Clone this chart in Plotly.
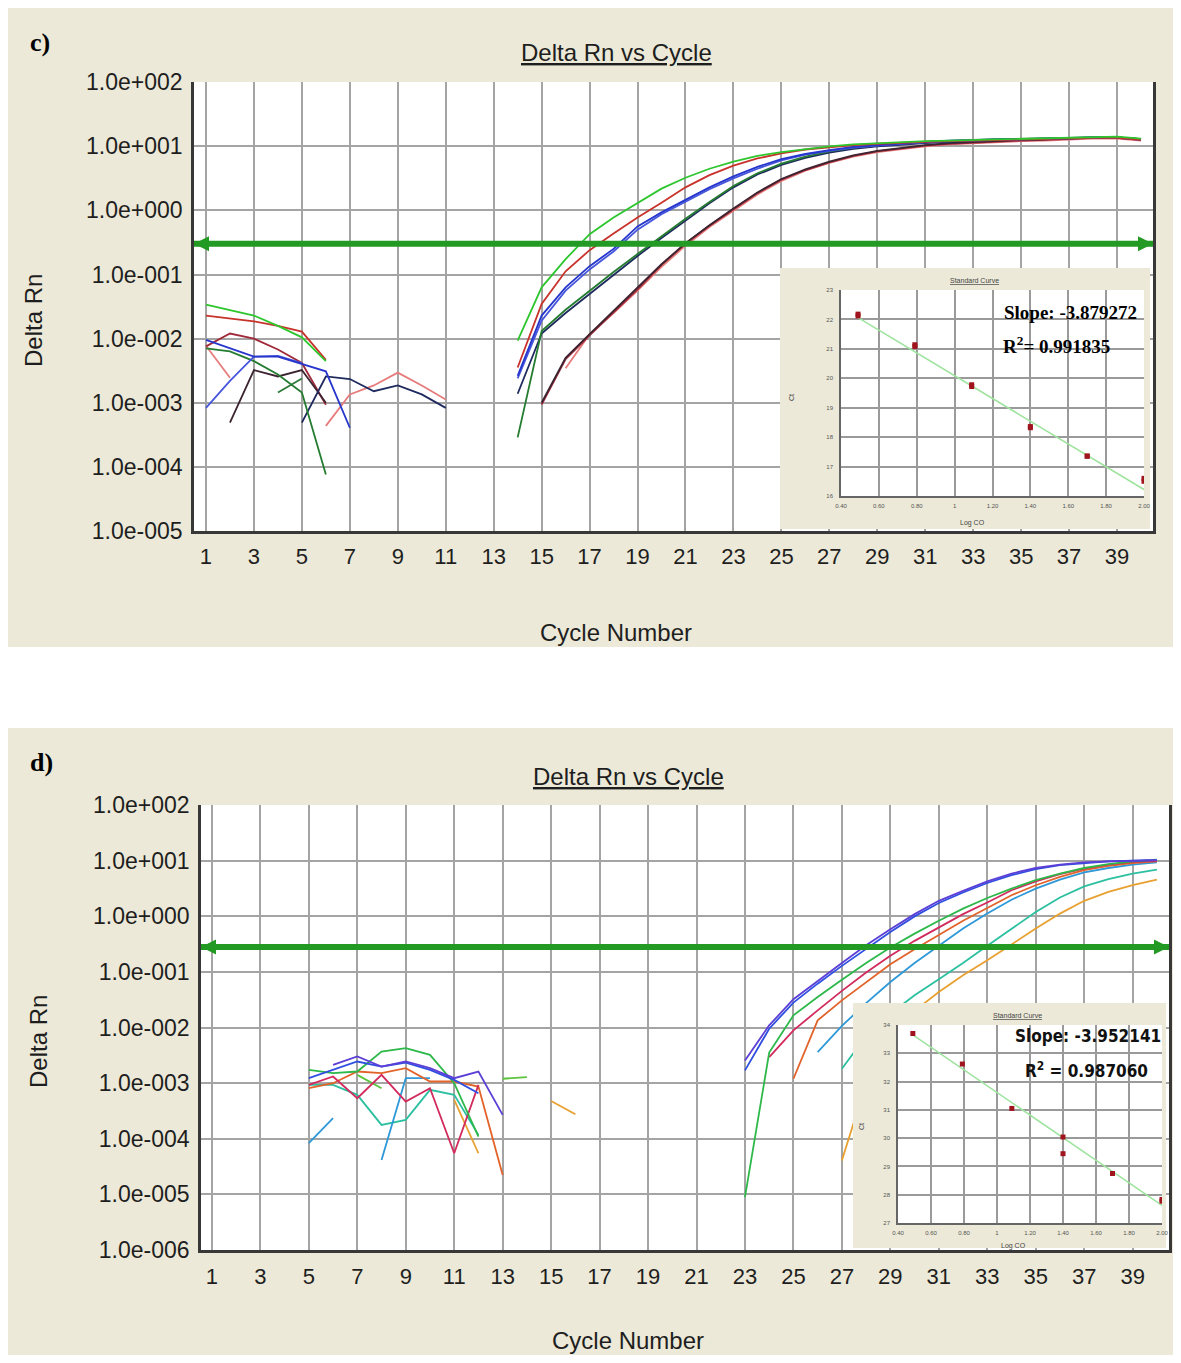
import plotly.graph_objects as go

# The page body has an 8px margin, so the figure is sized to fit the window.
FW, FH = 1165, 1347
N = None
cycles = list(range(1, 41))

# ---------------- panel c : log10(Delta Rn) per cycle 1..40 (None = no reading)
c_green = [-1.47, -1.55, -1.64, -1.80, -1.98, -2.35] + [N]*7 + [
    -2.03, -1.20, -0.76, -0.37, -0.11, 0.12, 0.34, 0.51, 0.65, 0.76, 0.85, 0.91, 0.96, 1.00,
    1.03, 1.05, 1.07, 1.08, 1.09, 1.10, 1.11, 1.12, 1.13, 1.14, 1.15, 1.15, 1.12]
c_red = [-1.64, -1.68, -1.73, -1.80, -1.89, -2.33] + [N]*7 + [
    -2.45, -1.46, -0.95, -0.62, -0.36, -0.11, 0.12, 0.36, 0.55, 0.70, 0.81, 0.89, 0.95, 0.99,
    1.02, 1.04, 1.06, 1.07, 1.08, 1.09, 1.10, 1.11, 1.12, 1.13, 1.13, 1.13, 1.10]
c_maroon = [-2.12, -1.92, -2.00, -2.17, -2.38, -3.03] + [N]*8 + [
    -3.03, -2.32, -1.95, -1.59, -1.23, -0.85, -0.52, -0.24, 0.02, 0.27, 0.48, 0.63, 0.75,
    0.85, 0.92, 0.97, 1.01, 1.04, 1.06, 1.08, 1.09, 1.10, 1.12, 1.13, 1.13, 1.10]
c_blue = [-2.02, -2.15, -2.28, -2.28, -2.40, -2.51, -3.39] + [N]*6 + [
    -2.58, -1.64, -1.20, -0.87, -0.60, -0.25, -0.03, 0.17, 0.36, 0.53, 0.68, 0.80, 0.88, 0.94,
    0.99, 1.02, 1.05, 1.07, 1.09, 1.10, 1.11, 1.12, 1.13, 1.14, 1.14, 1.14, 1.11]
c_blue2 = [-3.08, -2.66, -2.28, -2.27, -2.38] + [N]*8 + [
    -2.62, -1.72, -1.25, -0.92, -0.64, -0.30, -0.06, 0.14, 0.33, 0.50, 0.65, 0.78, 0.87, 0.93,
    0.98, 1.01, 1.04, 1.06, 1.08, 1.09, 1.10, 1.11, 1.12, 1.13, 1.13, 1.13, 1.10]
c_dkgreen = [-2.15, -2.20, -2.35, -2.56, -2.84, -4.12] + [N]*7 + [
    -3.54, -1.88, -1.55, -1.25, -0.96, -0.68, -0.40, -0.13, 0.13, 0.38, 0.58, 0.73, 0.84, 0.92,
    0.98, 1.02, 1.05, 1.07, 1.09, 1.10, 1.11, 1.12, 1.13, 1.14, 1.14, 1.14, 1.11]
c_navy = [N]*4 + [-3.31, -2.59, -2.63, -2.82, -2.73, -2.87, -3.08] + [N]*2 + [
    -2.86, -1.92, -1.60, -1.30, -1.00, -0.71, -0.43, -0.16, 0.11, 0.36, 0.56, 0.71, 0.82, 0.90,
    0.96, 1.00, 1.03, 1.05, 1.07, 1.09, 1.10, 1.11, 1.12, 1.13, 1.14, 1.14, 1.11]
c_black = [N] + [-3.31, -2.49, -2.59, -2.49, -3.00] + [N]*8 + [
    -3.00, -2.30, -1.93, -1.57, -1.21, -0.84, -0.51, -0.23, 0.03, 0.28, 0.49, 0.64, 0.76,
    0.86, 0.93, 0.98, 1.02, 1.05, 1.07, 1.09, 1.10, 1.11, 1.13, 1.14, 1.14, 1.11]
c_pink = [-2.11, -2.61] + [N]*3 + [-3.36, -2.87, -2.73, -2.53, -2.73, -2.95] + [N]*4 + [
    -2.46, -1.93, -1.60, -1.25, -0.88, -0.55, -0.26, 0.00, 0.25, 0.46, 0.62, 0.74, 0.84,
    0.91, 0.96, 1.00, 1.03, 1.05, 1.07, 1.08, 1.09, 1.11, 1.12, 1.12, 1.09]
c_dkgreen2 = [N]*3 + [-2.84, -2.62] + [N]*35

# ---------------- panel d
d_purple = [N]*5 + [-2.67, -2.52, -2.70, -2.61, -2.73, -2.91, -2.79, -3.57] + [N]*9 + [
    -2.59, -1.96, -1.49, -1.16, -0.84, -0.52, -0.23, 0.04, 0.28, 0.46, 0.63, 0.77, 0.87,
    0.93, 0.97, 0.99, 1.00, 1.01]
d_blue = [N]*4 + [-2.91, -2.76, -2.61, -2.70, -2.63, -2.76, -2.94, -3.18] + [N]*10 + [
    -2.77, -2.02, -1.55, -1.21, -0.89, -0.58, -0.28, 0.00, 0.24, 0.43, 0.60, 0.74, 0.85,
    0.92, 0.96, 0.99, 1.00, 1.01]
d_green = [N]*4 + [-2.76, -2.82, -2.79, -2.43, -2.37, -2.49, -3.00, -3.96] + [N]*10 + [
    -5.05, -2.45, -1.78, -1.45, -1.14, -0.84, -0.56, -0.31, -0.08, 0.14, 0.33, 0.50, 0.65,
    0.77, 0.87, 0.94, 0.99, 1.02]
d_crimson = [N]*4 + [-3.03, -2.88, -3.27, -2.85, -3.33, -3.09, -4.26, -3.03] + [N]*11 + [
    -2.53, -2.05, -1.69, -1.34, -1.01, -0.71, -0.44, -0.20, 0.04, 0.25, 0.47, 0.63, 0.76,
    0.86, 0.93, 0.98, 1.00]
d_orange = [N]*4 + [-3.09, -3.00, -2.79, -2.82, -2.73, -2.97, -2.97, -3.06, -4.65] + [N]*11 + [
    -2.92, -1.87, -1.51, -1.19, -0.86, -0.59, -0.33, -0.08, 0.15, 0.38, 0.56, 0.71, 0.83,
    0.91, 0.96, 0.99]
d_teal = [N]*4 + [-3.03, -3.03, -3.21, -3.75, -3.66, -3.12, -3.21, -3.93] + [N]*14 + [
    -2.74, -2.15, -1.75, -1.42, -1.13, -0.84, -0.53, -0.22, 0.08, 0.34, 0.54, 0.67, 0.77, 0.84]
d_lightblue = [N]*4 + [-4.08, -3.63, N, -4.38, -2.91, -2.91] + [N]*15 + [
    -2.44, -1.97, -1.56, -1.18, -0.84, -0.53, -0.22, 0.05, 0.30, 0.50, 0.66, 0.79, 0.87,
    0.93, 0.97]
d_gold = [N]*10 + [-3.30, -4.26, N, N, -3.32, -3.56] + [N]*10 + [
    -4.39, -3.00, -2.20, -1.70, -1.36, -1.06, -0.79, -0.50, -0.22, 0.05, 0.28, 0.44, 0.56, 0.66]
d_lightgreen = [N]*6 + [-2.85, -3.09] + [N]*4 + [-2.92, -2.89] + [N]*26

# thresholds (log10 Delta Rn) and the cycle span they are drawn over
c_threshold = -0.52
d_threshold = -0.55
c_thr_span = [0.5, 40.5]
d_thr_span = [0.55, 40.5]

# y tick labels
c_yticks = [-5, -4, -3, -2, -1, 0, 1, 2]
c_yticktext = ["1.0e-005", "1.0e-004", "1.0e-003", "1.0e-002", "1.0e-001",
               "1.0e+000", "1.0e+001", "1.0e+002"]
d_yticks = [-6, -5, -4, -3, -2, -1, 0, 1, 2]
d_yticktext = ["1.0e-006"] + c_yticktext
x_ticks = list(range(1, 40, 2))

# ---------------- standard curve insets
ins_c_logco = [0.49, 0.49, 0.79, 0.79, 1.09, 1.09, 1.40, 1.40, 1.70, 1.70, 2.00, 2.00]
ins_c_ct = [22.12, 22.18, 21.08, 21.14, 19.72, 19.78, 18.32, 18.36, 17.35, 17.36, 16.50, 16.60]
ins_c_fit_x = [0.49, 2.00]
ins_c_fit_y = [22.06, 16.22]
ins_d_logco = [0.49, 0.79, 1.09, 1.40, 1.40, 1.70, 2.00, 2.00]
ins_d_ct = [33.70, 32.62, 31.05, 30.04, 29.45, 28.75, 27.83, 27.77]
ins_d_fit_x = [0.49, 2.00]
ins_d_fit_y = [33.65, 27.62]
ins_xticks = [0.4, 0.6, 0.8, 1.0, 1.2, 1.4, 1.6, 1.8, 2.0]
ins_xticktext = ["0.40", "0.60", "0.80", "1", "1.20", "1.40", "1.60", "1.80", "2.00"]

for s in [c_green, c_red, c_maroon, c_blue, c_blue2, c_dkgreen, c_navy, c_black, c_pink,
          c_dkgreen2, d_purple, d_blue, d_green, d_crimson, d_orange, d_teal, d_lightblue,
          d_gold, d_lightgreen]:
    assert len(s) == 40, len(s)

c_series = [(c_pink, '#e67c7c'), (c_maroon, '#a02a3a'), (c_black, '#3c2430'),
            (c_dkgreen2, '#2e7a3a'), (c_navy, '#1e2a5e'), (c_dkgreen, '#247c30'),
            (c_blue2, '#4656dc'), (c_blue, '#2636cc'), (c_red, '#c8322a'),
            (c_green, '#2ec62e')]
d_series = [(d_lightgreen, '#5cc43c'), (d_gold, '#e8a030'), (d_teal, '#2cc0a0'),
            (d_lightblue, '#2e98d8'), (d_orange, '#e2632a'), (d_crimson, '#d22a5c'),
            (d_green, '#2db84a'), (d_blue, '#2f4fe0'), (d_purple, '#5b3fd6')]


# positions are given in window pixels; convert to the figure's paper fractions
def px(x):
    return (x - 8) / FW


def py(y):
    return 1 - (y - 8) / FH


fig = go.Figure()
for vals, col in c_series:
    fig.add_trace(go.Scatter(x=cycles, y=vals, mode='lines', connectgaps=False,
                             line=dict(color=col, width=1.8), xaxis='x', yaxis='y'))
for vals, col in d_series:
    fig.add_trace(go.Scatter(x=cycles, y=vals, mode='lines', connectgaps=False,
                             line=dict(color=col, width=1.8), xaxis='x4', yaxis='y4'))

THR = '#239a23'
for span, thr, xa, ya in [(c_thr_span, c_threshold, 'x', 'y'), (d_thr_span, d_threshold, 'x4', 'y4')]:
    fig.add_trace(go.Scatter(x=span, y=[thr, thr], mode='lines+markers', cliponaxis=False,
                             line=dict(color=THR, width=6),
                             marker=dict(symbol=['arrow-left', 'arrow-right'], size=15,
                                         color=THR, line=dict(width=0)),
                             hoverinfo='skip', xaxis=xa, yaxis=ya))

BEIGE = '#ECE9D8'
# inset frames (background panels)
for xa, ya in [('x2', 'y2'), ('x5', 'y5')]:
    fig.add_trace(go.Scatter(x=[0, 1, 1, 0, 0], y=[0, 0, 1, 1, 0], fill='toself',
                             fillcolor=BEIGE, line=dict(width=0), mode='lines',
                             hoverinfo='skip', xaxis=xa, yaxis=ya))

# inset data
for xs, ys, fx, fy, xa, ya in [(ins_c_logco, ins_c_ct, ins_c_fit_x, ins_c_fit_y, 'x3', 'y3'),
                               (ins_d_logco, ins_d_ct, ins_d_fit_x, ins_d_fit_y, 'x6', 'y6')]:
    fig.add_trace(go.Scatter(x=fx, y=fy, mode='lines', line=dict(color='#9ee49e', width=1.6),
                             xaxis=xa, yaxis=ya))
    fig.add_trace(go.Scatter(x=xs, y=ys, mode='markers',
                             marker=dict(symbol='square', size=5, color='#a0141e'),
                             xaxis=xa, yaxis=ya))

FONT = 'Liberation Sans, Arial, sans-serif'
ytickfont = dict(family=FONT, size=23, color='#1e1e1e')
xtickfont = dict(family=FONT, size=22, color='#1e1e1e')
GRID = '#a4a4a4'
LINE = '#383838'


def main_x(domain, rng, anchor, tl):
    return dict(domain=domain, range=rng, anchor=anchor, tickvals=x_ticks,
                showgrid=True, gridcolor=GRID, gridwidth=2, zeroline=False,
                showline=True, linecolor=LINE, linewidth=2.5, mirror=False,
                ticks='outside', ticklen=tl, tickcolor='rgba(0,0,0,0)', tickfont=xtickfont,
                automargin=False, fixedrange=True)


def main_y(domain, rng, anchor, tv, tt):
    return dict(domain=domain, range=rng, anchor=anchor, tickvals=tv, ticktext=tt,
                showgrid=True, gridcolor=GRID, gridwidth=2, zeroline=False,
                showline=True, linecolor=LINE, linewidth=2.5, mirror=True,
                ticks='outside', ticklen=4, tickcolor='rgba(0,0,0,0)', tickfont=ytickfont,
                automargin=False, fixedrange=True)


def frame_ax(domain, anchor):
    # axis kept but with nothing drawn: only its subplot background is used
    return dict(domain=domain, range=[0, 1], anchor=anchor, showticklabels=False,
                showgrid=False, showline=False, zeroline=False, ticks='',
                automargin=False, fixedrange=True)


ins_font = dict(family=FONT, size=6, color='#555555')


def ins_x(domain, anchor):
    return dict(domain=domain, range=[0.4, 2.0], anchor=anchor, tickvals=ins_xticks,
                ticktext=ins_xticktext, showgrid=True, gridcolor='#9a9a9a', gridwidth=1.5,
                zeroline=False, showline=True, linecolor='#666666', linewidth=1.5,
                ticks='outside', ticklen=3, tickcolor='rgba(0,0,0,0)', tickfont=ins_font,
                automargin=False, fixedrange=True)


def ins_y(domain, anchor, rng):
    return dict(domain=domain, range=rng, anchor=anchor, dtick=1,
                showgrid=True, gridcolor='#9a9a9a', gridwidth=1.5,
                zeroline=False, showline=True, linecolor='#666666', linewidth=1.5,
                ticks='outside', ticklen=5, tickcolor='rgba(0,0,0,0)', tickfont=ins_font,
                automargin=False, fixedrange=True)


layout = dict(
    width=FW, height=FH, margin=dict(l=0, r=0, t=0, b=0, pad=0, autoexpand=False),
    paper_bgcolor=BEIGE, plot_bgcolor='white', showlegend=False,
    xaxis=main_x([px(194), px(1153)], [0.5, 40.5], 'y', 4),
    yaxis=main_y([py(531), py(82)], [-5, 2.003], 'x', c_yticks, c_yticktext),
    xaxis2=frame_ax([px(780), px(1150)], 'y2'),
    yaxis2=frame_ax([py(529), py(268)], 'x2'),
    xaxis3=ins_x([px(841), px(1144)], 'y3'),
    yaxis3=ins_y([py(496), py(290)], 'x3', [16, 23]),
    xaxis4=main_x([px(201), px(1169)], [0.55, 40.5], 'y4', 5),
    yaxis4=main_y([py(1250), py(805)], [-6, 2.003], 'x4', d_yticks, d_yticktext),
    xaxis5=frame_ax([px(853), px(1166)], 'y5'),
    yaxis5=frame_ax([py(1248), py(1003)], 'x5'),
    xaxis6=ins_x([px(898), px(1162)], 'y6'),
    yaxis6=ins_y([py(1223), py(1025)], 'x6', [27, 34]),
)
fig.update_layout(**layout)

# white gap between the two panels
fig.add_shape(type='rect', xref='paper', yref='paper', x0=0, x1=1,
              y0=py(728), y1=py(647), fillcolor='white', line=dict(width=0), layer='below')

anns = []


def ann(x, y, text, size, family=FONT, color='#1e1e1e', xanchor='center', angle=0,
        under=False):
    font = dict(family=family, size=size, color=color)
    if under:
        font['lineposition'] = 'under'
    anns.append(dict(x=px(x), y=py(y), xref='paper', yref='paper', text=text,
                     showarrow=False, xanchor=xanchor, yanchor='middle', textangle=angle,
                     font=font))


SERIF = 'Liberation Serif, Times New Roman, serif'
NARROW = 'Liberation Sans Narrow, Arial Narrow, DejaVu Sans Condensed, sans-serif'
# panel c
ann(28, 42, '<b>c)</b>', 26, SERIF, '#000', 'left')
ann(616, 52, 'Delta Rn vs Cycle', 24, under=True)
ann(33, 321, 'Delta Rn', 24, angle=-90)
ann(616, 632, 'Cycle Number', 24)
ann(974, 280, 'Standard Curve', 7, color='#444', under=True)
ann(791, 397, 'Ct', 7, color='#444', angle=-90)
ann(972, 523, 'Log CO', 7, color='#444')
ann(1002, 312, '<b>Slope: -3.879272</b>', 19, SERIF, '#000', 'left')
ann(1001, 345, '<b>R<sup>2</sup>= 0.991835</b>', 19, SERIF, '#000', 'left')
# panel d
ann(28, 762, '<b>d)</b>', 26, SERIF, '#000', 'left')
ann(628, 776, 'Delta Rn vs Cycle', 24, under=True)
ann(38, 1042, 'Delta Rn', 24, angle=-90)
ann(628, 1340, 'Cycle Number', 24)
ann(1017, 1015, 'Standard Curve', 7, color='#444', under=True)
ann(861, 1127, 'Ct', 7, color='#444', angle=-90)
ann(1013, 1246, 'Log CO', 7, color='#444')
ann(1163, 1036, '<b>Slope: -3.952141</b>', 17, NARROW, '#111', 'right')
ann(1086, 1070, '<b>R<sup>2</sup> = 0.987060</b>', 17, NARROW, '#111')

fig.update_layout(annotations=anns)
fig.write_html('out.html')
